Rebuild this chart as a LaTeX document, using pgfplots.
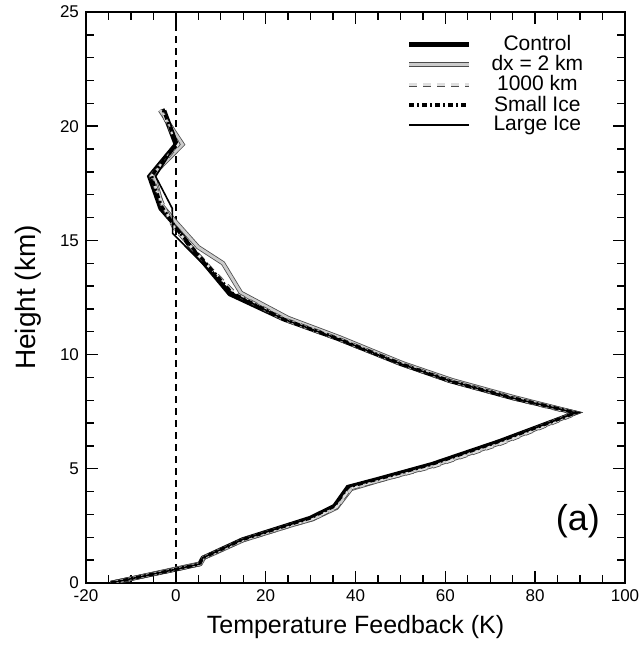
\documentclass[border=0pt]{standalone}
\usepackage{fontspec}
\setmainfont{Liberation Sans}
\usepackage{pgfplots}
\pgfplotsset{compat=1.18}

\begin{document}
\begin{tikzpicture}
\begin{axis}[
  scale only axis, width=269.5pt, height=285.5pt,
  xmin=-20, xmax=100, ymin=0, ymax=25,
  xtick={-20,0,...,100}, ytick={0,5,...,25},
  minor x tick num=3, minor y tick num=4,
  tick align=inside, major tick length=6pt, minor tick length=4pt,
  major tick style={black, line width=0.7pt},
  minor tick style={black, line width=0.7pt},
  axis line style={line width=0.8pt},
  ticklabel style={font=\fontsize{8.5}{10}\selectfont},
  /pgf/number format/assume math mode=true,
  xlabel={Temperature Feedback (K)}, ylabel={Height (km)},
  xlabel style={font=\fontsize{12.5}{14}\selectfont, at={(axis description cs:0.5,-0.077)}, anchor=center},
  ylabel style={font=\fontsize{14}{16}\selectfont, at={(axis description cs:-0.108,0.5)}, anchor=center},
  legend style={draw=none, fill=none, at={(axis cs:93,24.35)}, anchor=north east,
    font=\fontsize{10.5}{11}\selectfont, row sep=-3pt,
    /tikz/every odd column/.append style={column sep=8pt}},
  legend cell align=center,
  legend image code/.code={\draw[#1] (0pt,0pt) -- (30pt,0pt);},
]
% zero line
\addplot[black, line width=1.1pt, dash pattern=on 3.5pt off 2.5pt, forget plot] coordinates {(0,0) (0,25)};

% Control
\addplot[black, line width=2.2pt] coordinates {
(-14.5,0) (0,0.6) (5.3,0.83) (6,1.1) (8.2,1.3) (14.8,1.9) (25.7,2.58) (30,2.85) (35.3,3.37)
(38.3,4.2) (45,4.55) (57,5.2) (72,6.2) (89,7.45) (75,8.1) (61,8.85) (50,9.6) (36,10.7)
(24,11.55) (12,12.65) (3.3,14.7) (-0.3,15.7) (-3.4,16.4) (-5.9,17.8) (0,19.2) (-3,20.75)};
\addlegendentry{Control}

% dx = 2 km
\addplot[draw=black!70, double=gray!40, double distance=1.4pt, line width=0.4pt] coordinates {
(-14.3,0) (0,0.62) (5.5,0.85) (6.3,1.12) (8.5,1.3) (15,1.88) (26,2.55) (30.5,2.8) (35.8,3.3)
(39,4.12) (45.5,4.5) (57.5,5.15) (72.5,6.15) (89,7.45) (75.5,8.12) (61.5,8.88) (50.5,9.62)
(36.5,10.75) (25,11.6) (14.5,12.7) (10.5,14.0) (5,14.7) (0,15.8) (-3,16.5) (-5,17.9) (1.5,19.2) (-3.5,20.7)};
\addlegendentry{dx = 2 km}

% 1000 km
\addplot[draw=black!70, double=gray!25, double distance=1.3pt, line width=0.4pt, dash pattern=on 4pt off 3pt] coordinates {
(-14.5,0) (0,0.6) (5.4,0.83) (6.1,1.1) (8.3,1.3) (15,1.88) (26,2.55) (30.4,2.8) (35.8,3.33)
(38.8,4.15) (45.5,4.5) (57.5,5.12) (72.5,6.12) (89,7.42) (75,8.1) (61,8.85) (50,9.6) (36,10.7)
(24,11.55) (13,12.7) (8,13.7) (3,14.8) (-0.5,15.6) (-3,16.6) (-5.5,17.8) (0.5,19.2) (-3,20.6)};
\addlegendentry{1000 km}

% Small Ice
\addplot[black, line width=1.6pt, dash pattern=on 2.5pt off 1.5pt on 1pt off 1.5pt] coordinates {
(-14.5,0) (0,0.6) (5.3,0.83) (6,1.1) (8.2,1.3) (14.8,1.9) (25.7,2.58) (30,2.85) (35.3,3.37)
(38.3,4.2) (45,4.55) (57,5.2) (72,6.2) (89,7.45) (75,8.1) (61,8.85) (50,9.6) (36,10.7)
(24,11.55) (12.5,12.7) (4,14.6) (-0.2,15.6) (-3.2,16.5) (-5.5,17.8) (0.2,19.2) (-2.8,20.7)};
\addlegendentry{Small Ice}

% Large Ice
\addplot[black, line width=0.8pt] coordinates {
(-14.5,0) (0,0.6) (5.3,0.83) (6,1.1) (8.2,1.3) (14.8,1.9) (25.7,2.58) (30,2.85) (35.3,3.37)
(38.3,4.2) (45,4.55) (57,5.2) (72,6.2) (89,7.45) (75,8.1) (61,8.85) (50,9.6) (36,10.7)
(24,11.55) (12.5,12.7) (-0.7,15.3) (-0.8,16.4) (-4.5,17.8) (0.3,19.3) (-2.3,20.7)};
\addlegendentry{Large Ice}

\node[font=\fontsize{18}{20}\selectfont] at (axis cs:89.5,2.7) {(a)};
\end{axis}
\pgfresetboundingbox
\path[use as bounding box] (-43pt,-31.5pt) rectangle (276.5pt,291.5pt);
\end{tikzpicture}
\end{document}
